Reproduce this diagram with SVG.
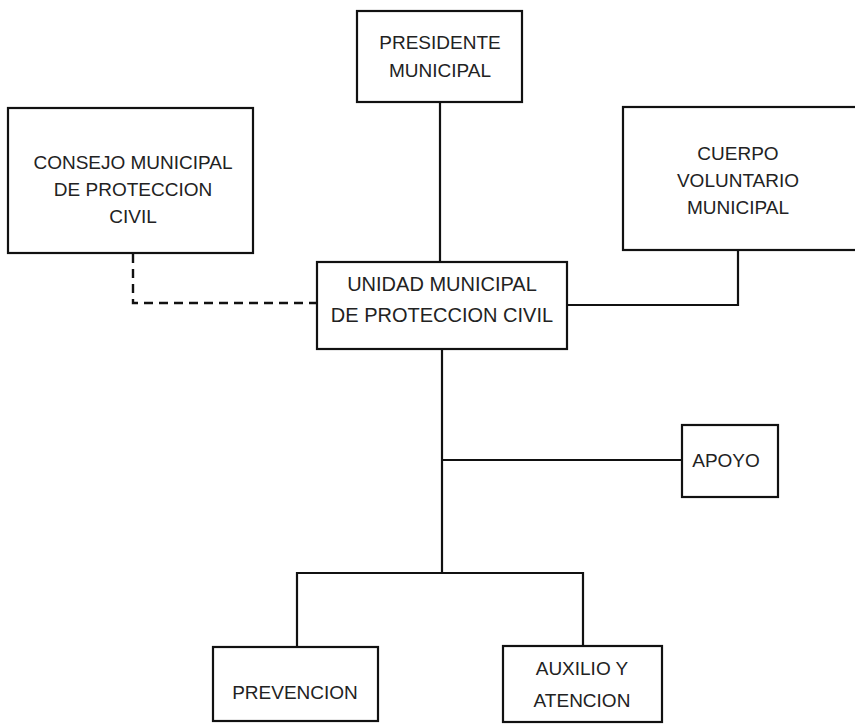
<svg xmlns="http://www.w3.org/2000/svg" width="855" height="725" viewBox="0 0 855 725">
<style>
.box{fill:none;stroke:#111;stroke-width:2.2}
.ln{fill:none;stroke:#111;stroke-width:2.2}
.dash{fill:none;stroke:#111;stroke-width:2.4;stroke-dasharray:9 6}
text{font-family:"Liberation Sans",Arial,sans-serif;font-size:19px;fill:#222;text-anchor:middle}
.big{font-size:20px}
</style>
<rect width="855" height="725" fill="#fff"/>
<g id="connectors">
<line class="ln" x1="440" y1="102" x2="440" y2="262"/>
<polyline class="dash" points="133,254 133,303 316,303"/>
<polyline class="ln" points="567,305 738,305 738,250"/>
<line class="ln" x1="442" y1="349" x2="442" y2="573"/>
<line class="ln" x1="442" y1="460" x2="682" y2="460"/>
<polyline class="ln" points="297,647 297,573 583,573 583,646"/>
</g>
<g id="presidente">
<rect class="box" x="357" y="11" width="165" height="91"/>
<text x="440" y="49">PRESIDENTE</text>
<text x="440" y="77">MUNICIPAL</text>
</g>
<g id="consejo">
<rect class="box" x="8" y="108" width="245" height="145"/>
<text x="133" y="169">CONSEJO MUNICIPAL</text>
<text x="133" y="196">DE PROTECCION</text>
<text x="133" y="223">CIVIL</text>
</g>
<g id="cuerpo">
<rect class="box" x="623" y="107" width="240" height="143"/>
<text x="738" y="160">CUERPO</text>
<text x="738" y="187">VOLUNTARIO</text>
<text x="738" y="214">MUNICIPAL</text>
</g>
<g id="unidad">
<rect class="box" x="317" y="262" width="250" height="87"/>
<text class="big" x="442" y="291">UNIDAD MUNICIPAL</text>
<text class="big" x="442" y="322">DE PROTECCION CIVIL</text>
</g>
<g id="apoyo">
<rect class="box" x="682" y="425" width="96" height="72"/>
<text x="726" y="467">APOYO</text>
</g>
<g id="prevencion">
<rect class="box" x="213" y="647" width="165" height="74"/>
<text x="295" y="699">PREVENCION</text>
</g>
<g id="auxilio">
<rect class="box" x="503" y="646" width="159" height="76"/>
<text x="582" y="675">AUXILIO Y</text>
<text x="582" y="707">ATENCION</text>
</g>
</svg>
